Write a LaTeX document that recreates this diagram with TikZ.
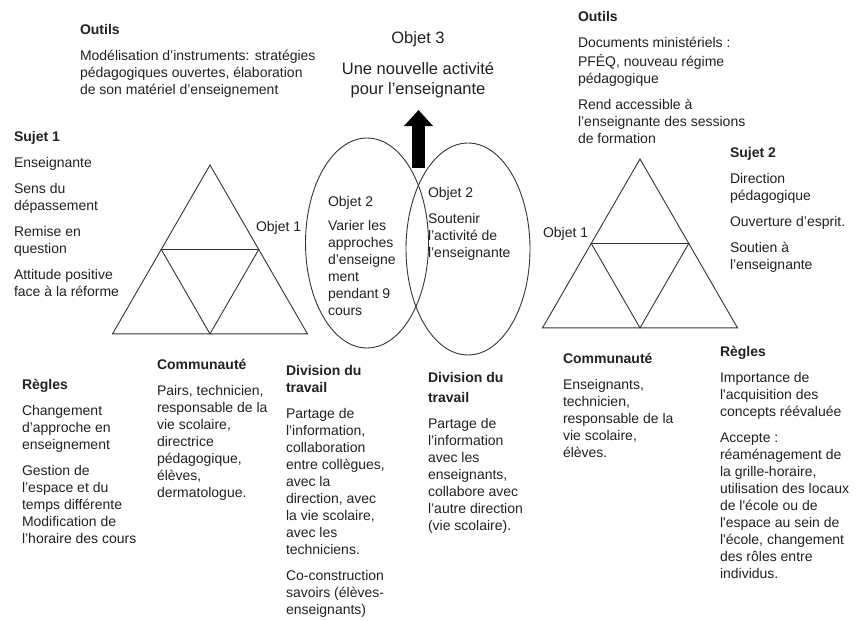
\documentclass[tikz,border=0pt]{standalone}
\usepackage{fontspec}
\setmainfont{Liberation Sans}
\usetikzlibrary{positioning,shapes.geometric,arrows.meta}
\definecolor{lineC}{gray}{0.2}
\definecolor{textC}{gray}{0.13}

\begin{document}
\begin{tikzpicture}[
	x=1pt, y=-1pt,
	node distance = 9pt,
	body/.style={anchor=north west, inner sep=0pt, outer sep=0pt, align=left,
		text=textC, font=\fontsize{14}{17}\selectfont},
	head/.style={body, font=\bfseries\fontsize{14}{17}\selectfont},
	oval/.style={draw=lineC, line width=0.9pt, ellipse, inner sep=0pt,
		minimum width=123pt, minimum height=210pt},
	tri/.style={draw=lineC, line width=0.9pt},
	]
	\useasboundingbox (0,0) rectangle (857,621);
	
	\foreach \ax/\ay in {210/165, 640/159}{
		\draw[tri] (\ax,\ay) -- ++(97.5,168.9) -- ++(-195,0) -- cycle;
		\draw[tri] (\ax-48.75,\ay+84.45) -- ++(97.5,0) -- (\ax,\ay+168.9) -- cycle;
	}
	
	\node [oval] (ovalL) at (367,243) {};
	\node [oval, minimum width=124pt, minimum height=212pt] (ovalR) at (468,249) {};
	
	\coordinate (arrowB) at (418.5,168);
	\coordinate (arrowT) at (418.5,110);
	\draw [line width=13pt, -{Triangle[width=28pt,length=16pt]}] (arrowB) -- (arrowT);
	
	\node [body, anchor=north, align=center, font=\fontsize{16.5}{20}\selectfont] (objet3) at (418,29)
		{\strut Objet 3\\[11pt]Une nouvelle activité\\pour l’enseignante};
	
	\node [head] (outils1) at (80,23) {Outils\strut};
	\node [body, below=of outils1.south west, anchor=north west] (outils1-txt)
		{\strut Modélisation d’instruments: stratégies\\pédagogiques ouvertes, élaboration\\de son matériel d’enseignement};
	
	\node [head] (outils2) at (578,10) {Outils\strut};
	\node [body, below=of outils2.south west, anchor=north west] (outils2-txt)
		{\strut Documents ministériels :\\PFÉQ, nouveau régime\\pédagogique\\[9pt]Rend accessible à\\l’enseignante des sessions\\de formation};
	
	\node [head] (sujet1) at (14,130) {Sujet 1\strut};
	\node [body, below=of sujet1.south west, anchor=north west] (sujet1-txt)
		{\strut Enseignante\\[9pt]Sens du\\dépassement\\[9pt]Remise en\\question\\[9pt]Attitude positive\\face à la réforme};
	
	\node [body] (objet1L) at (256,220) {\strut Objet 1};
	\node [body] (objet1R) at (543,226) {\strut Objet 1};
	
	\node [body] (objet2L) at (328,195) {Objet 2\strut};
	\node [body, below=7pt of objet2L.south west, anchor=north west] (objet2L-txt)
		{\strut Varier les\\approches\\d’enseigne\\ment\\pendant 9\\cours};
	
	\node [body] (objet2R) at (428,186) {Objet 2\strut};
	\node [body, below=of objet2R.south west, anchor=north west] (objet2R-txt)
		{\strut Soutenir\\l’activité de\\l’enseignante};
	
	\node [head] (sujet2) at (730,146) {Sujet 2\strut};
	\node [body, below=of sujet2.south west, anchor=north west] (sujet2-txt)
		{\strut Direction\\pédagogique\\[9pt]Ouverture d’esprit.\\[9pt]Soutien à\\l’enseignante};
	
	\node [head] (regles1) at (22,378) {Règles\strut};
	\node [body, below=of regles1.south west, anchor=north west] (regles1-txt)
		{\strut Changement\\d’approche en\\enseignement\\[9pt]Gestion de\\l’espace et du\\temps différente\\Modification de\\l’horaire des cours};
	
	\node [head] (commun1) at (157,358) {Communauté\strut};
	\node [body, below=of commun1.south west, anchor=north west] (commun1-txt)
		{\strut Pairs, technicien,\\responsable de la\\vie scolaire,\\directrice\\pédagogique,\\élèves,\\dermatologue.};
	
	\node [head] (division1) at (286,364) {\strut Division du\\travail\strut};
	\node [body, below=of division1.south west, anchor=north west] (division1-txt)
		{\strut Partage de\\l’information,\\collaboration\\entre collègues,\\avec la\\direction, avec\\la vie scolaire,\\avec les\\techniciens.\\[9pt]Co-construction\\savoirs (élèves-\\enseignants)};
	
	\node [head] (division2) at (428,371) {\strut Division du\\[3pt]travail\strut};
	\node [body, below=of division2.south west, anchor=north west] (division2-txt)
		{\strut Partage de\\l’information\\avec les\\enseignants,\\collabore avec\\l’autre direction\\(vie scolaire).};
	
	\node [head] (commun2) at (563,352) {Communauté\strut};
	\node [body, below=of commun2.south west, anchor=north west] (commun2-txt)
		{\strut Enseignants,\\technicien,\\responsable de la\\vie scolaire,\\élèves.};
	
	\node [head] (regles2) at (720,345) {Règles\strut};
	\node [body, below=of regles2.south west, anchor=north west] (regles2-txt)
		{\strut Importance de\\l\textquotesingle acquisition des\\concepts réévaluée\\[9pt]Accepte :\\réaménagement de\\la grille-horaire,\\utilisation des locaux\\de l\textquotesingle école ou de\\l\textquotesingle espace au sein de\\l\textquotesingle école, changement\\des rôles entre\\individus.};
\end{tikzpicture}
\end{document}
